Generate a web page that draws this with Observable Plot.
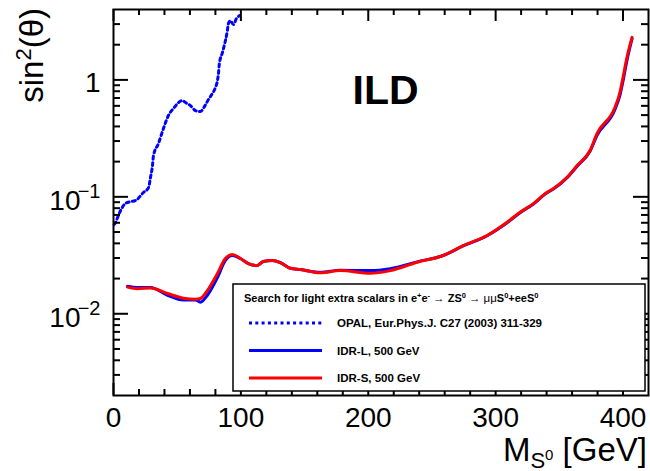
<!DOCTYPE html>
<html>
<head>
<meta charset="utf-8">
<script src="https://cdn.jsdelivr.net/npm/d3@7"></script>
<script src="https://cdn.jsdelivr.net/npm/@observablehq/plot@0.6"></script>
<style>
  body { margin: 0; background: #fff; }
  #chart { width: 650px; height: 471px; }
</style>
</head>
<body>
<div id="chart"></div>
<script>
// ---- data ----
const opalX = [0.5, 1.6, 3.1, 5.5, 9.4, 13.3, 17.3, 23.5, 27.5, 29, 30.6, 31.4, 35.3, 39.2, 43.1, 47, 54.1, 56.5, 60.4, 64.3, 68.2, 71.4, 74.5, 77.6, 80, 81.6, 82.4, 83.1, 85.5, 87.1, 89.4, 90.2, 91.8, 94.1, 96.5, 98.8];
const opalY = [0.058, 0.060, 0.066, 0.076, 0.088, 0.091, 0.093, 0.109, 0.120, 0.146, 0.185, 0.226, 0.286, 0.384, 0.496, 0.569, 0.666, 0.64, 0.603, 0.547, 0.536, 0.591, 0.679, 0.764, 0.859, 0.987, 1.13, 1.38, 1.71, 2.0, 2.64, 3.03, 3.21, 2.97, 3.34, 3.55];

const idrX = [11.0, 18.8, 29.0, 42.4, 54.9, 64.3, 68.2, 73.7, 81.6, 87.8, 93.3, 99.6, 105.9, 112.9, 117.6, 124.7, 131.0, 138.8, 146.7, 162.4, 178.0, 201.6, 217.3, 238.4, 258.8, 274.5, 293.3, 309.0, 319.2, 329.4, 340.4, 345.1, 356.1, 364.0, 374.1, 379.6, 393.7, 397.6, 400.0, 403.1, 407.1];
const idrLY = [0.0172, 0.0168, 0.0168, 0.0144, 0.0131, 0.0131, 0.01257, 0.0144, 0.0204, 0.0286, 0.0315, 0.0297, 0.0269, 0.0259, 0.0280, 0.0286, 0.0274, 0.0245, 0.0239, 0.0226, 0.0236, 0.0234, 0.0243, 0.0278, 0.0315, 0.0380, 0.0465, 0.0600, 0.0730, 0.0865, 0.1085, 0.116, 0.146, 0.183, 0.245, 0.335, 0.560, 0.740, 0.980, 1.47, 2.25];
const idrSY = [0.0169, 0.0164, 0.0166, 0.0149, 0.0136, 0.0133, 0.0135, 0.0158, 0.0221, 0.0297, 0.0321, 0.0297, 0.0269, 0.0259, 0.0280, 0.0286, 0.0274, 0.0245, 0.0239, 0.0224, 0.0234, 0.0222, 0.0234, 0.0276, 0.0315, 0.0383, 0.0467, 0.0607, 0.0738, 0.0871, 0.1094, 0.117, 0.147, 0.185, 0.249, 0.348, 0.583, 0.784, 1.05, 1.56, 2.31];

const xMajor = [0, 100, 200, 300, 400];
const xMinor = [20, 40, 60, 80, 120, 140, 160, 180, 220, 240, 260, 280, 320, 340, 360, 380];
const yMajor = [0.01, 0.1, 1];
const yMajorBase = ["10", "10", "1"];
const yMajorExp = ["\u22122", "\u22121", ""];
const yMinor = [0.003, 0.004, 0.005, 0.006, 0.007, 0.008, 0.009,
                0.02, 0.03, 0.04, 0.05, 0.06, 0.07, 0.08, 0.09,
                0.2, 0.3, 0.4, 0.5, 0.6, 0.7, 0.8, 0.9, 2, 3];

const legendLabels = ["OPAL, Eur.Phys.J. C27 (2003) 311-329", "IDR-L, 500 GeV", "IDR-S, 500 GeV"];
const legendColors = ["#0000ff", "#0000ff", "#ff0000"];
const legendDash = ["3,3.3", null, null];

// ---- build ----
const FONT = "Liberation Sans, Arial, sans-serif";
const W = 650, H = 471, ML = 113, MR = 2, MT = 9, MB = 76;
const FW = W - ML - MR, FH = H - MT - MB;

const opal = opalX.map((x, i) => ({x, y: opalY[i]}));
const idrL = idrX.map((x, i) => ({x, y: idrLY[i]}));
const idrS = idrX.map((x, i) => ({x, y: idrSY[i]}));

const withExp = yMajor.map((v, i) => ({v, base: yMajorBase[i], exp: yMajorExp[i]})).filter(d => d.exp !== "");
const plain = yMajor.map((v, i) => ({v, base: yMajorBase[i], exp: yMajorExp[i]})).filter(d => d.exp === "");

const plot = Plot.plot({
  width: W, height: H,
  marginLeft: ML, marginRight: MR, marginTop: MT, marginBottom: MB,
  style: {fontFamily: FONT, background: "white"},
  x: {domain: [0, 420], axis: null},
  y: {type: "log", domain: [0.002, 4], axis: null},
  marks: [
    Plot.line(opal, {x: "x", y: "y", stroke: "#0000ff", strokeWidth: 3, strokeDasharray: "3,3.3", curve: "monotone-x"}),
    Plot.line(idrL, {x: "x", y: "y", stroke: "#0000ff", strokeWidth: 3, curve: "monotone-x"}),
    Plot.line(idrS, {x: "x", y: "y", stroke: "#ff0000", strokeWidth: 3, curve: "monotone-x"}),
    // x tick labels
    Plot.text(xMajor, {x: d => d, text: d => String(d), frameAnchor: "bottom", dy: 23, textAnchor: "middle", lineAnchor: "middle", fontSize: 28}),
    // y tick labels
    Plot.text(withExp, {y: "v", text: "base", frameAnchor: "left", dx: -33, dy: 4, textAnchor: "end", lineAnchor: "middle", fontSize: 28}),
    Plot.text(withExp, {y: "v", text: "exp", frameAnchor: "left", dx: -13, dy: -5, textAnchor: "end", lineAnchor: "middle", fontSize: 20}),
    Plot.text(plain, {y: "v", text: "base", frameAnchor: "left", dx: -13, dy: 3, textAnchor: "end", lineAnchor: "middle", fontSize: 28}),
    // ILD
    Plot.text(["ILD"], {frameAnchor: "top-left", dx: 272, dy: 81, text: d => d, textAnchor: "middle", lineAnchor: "middle", fontSize: 41, fontWeight: "bold"}),
    // inward ticks: bottom, top, left, right
    Plot.ruleX(xMajor, {x: d => d, insetTop: FH - 12, stroke: "black", strokeWidth: 2}),
    Plot.ruleX(xMinor, {x: d => d, insetTop: FH - 6, stroke: "black", strokeWidth: 2}),
    Plot.ruleX(xMajor, {x: d => d, insetBottom: FH - 12, stroke: "black", strokeWidth: 2}),
    Plot.ruleX(xMinor, {x: d => d, insetBottom: FH - 6, stroke: "black", strokeWidth: 2}),
    Plot.ruleY(yMajor, {y: d => d, insetRight: FW - 15, stroke: "black", strokeWidth: 2}),
    Plot.ruleY(yMinor, {y: d => d, insetRight: FW - 7, stroke: "black", strokeWidth: 2}),
    Plot.ruleY(yMajor, {y: d => d, insetLeft: FW - 15, stroke: "black", strokeWidth: 2}),
    Plot.ruleY(yMinor, {y: d => d, insetLeft: FW - 7, stroke: "black", strokeWidth: 2}),
    Plot.frame({stroke: "black", strokeWidth: 2})
  ]
});

document.getElementById("chart").appendChild(plot);

const svg = d3.select(plot);

// y axis title
const yt = svg.append("text")
  .attr("transform", "translate(43,8) rotate(-90)")
  .attr("text-anchor", "end")
  .attr("font-family", FONT)
  .attr("font-size", 33)
  .attr("fill", "black");
yt.append("tspan").text("sin");
yt.append("tspan").attr("font-size", 22).attr("dy", -12).text("2");
yt.append("tspan").attr("dy", 12).text("(\u03b8)");

// x axis title
const xt = svg.append("text")
  .attr("x", 647).attr("y", 461)
  .attr("text-anchor", "end")
  .attr("font-family", FONT)
  .attr("font-size", 33)
  .attr("fill", "black");
xt.append("tspan").text("M");
xt.append("tspan").attr("font-size", 22).attr("dy", 7).text("S");
xt.append("tspan").attr("font-size", 15).attr("dy", -8).text("0");
xt.append("tspan").attr("dy", 1).text(" [GeV]");

// legend
const lg = svg.append("g").attr("font-family", FONT).attr("fill", "black").attr("text-anchor", "start");
lg.append("rect").attr("x", 233).attr("y", 284).attr("width", 412).attr("height", 107)
  .attr("fill", "white").attr("stroke", "black").attr("stroke-width", 1.5);

const head = lg.append("text").attr("x", 244).attr("y", 302).attr("text-anchor", "start")
  .attr("font-size", 11).attr("font-weight", "bold");
const segs = [
  ["Search for light extra scalars in e", "n"], ["+", "s"], ["e", "n"], ["-", "s"],
  [" ", "n"], ["\u2192", "r"], [" ZS", "n"], ["0", "s"], [" ", "n"], ["\u2192", "r"], [" ", "n"],
  ["\u03bc\u03bc", "r"], ["S", "n"], ["0", "s"], ["+eeS", "n"], ["0", "s"]
];
let raised = false;
segs.forEach(([t, k]) => {
  const ts = head.append("tspan").text(t);
  if (k === "s") {
    ts.attr("font-size", 7.5);
    if (!raised) { ts.attr("dy", -4); raised = true; }
  } else {
    if (raised) { ts.attr("dy", 4); raised = false; }
    if (k === "r") ts.attr("font-weight", "normal").attr("font-size", 11.5);
  }
});

legendLabels.forEach((lab, i) => {
  const yy = 323 + i * 27.5;
  const ln = lg.append("line").attr("x1", 249).attr("x2", 322).attr("y1", yy).attr("y2", yy)
    .attr("stroke", legendColors[i]).attr("stroke-width", 3);
  if (legendDash[i]) ln.attr("stroke-dasharray", legendDash[i]);
  lg.append("text").attr("x", 337).attr("y", yy + 4).attr("text-anchor", "start")
    .attr("font-size", 11.5).attr("font-weight", "bold").text(lab);
});
</script>
</body>
</html>
